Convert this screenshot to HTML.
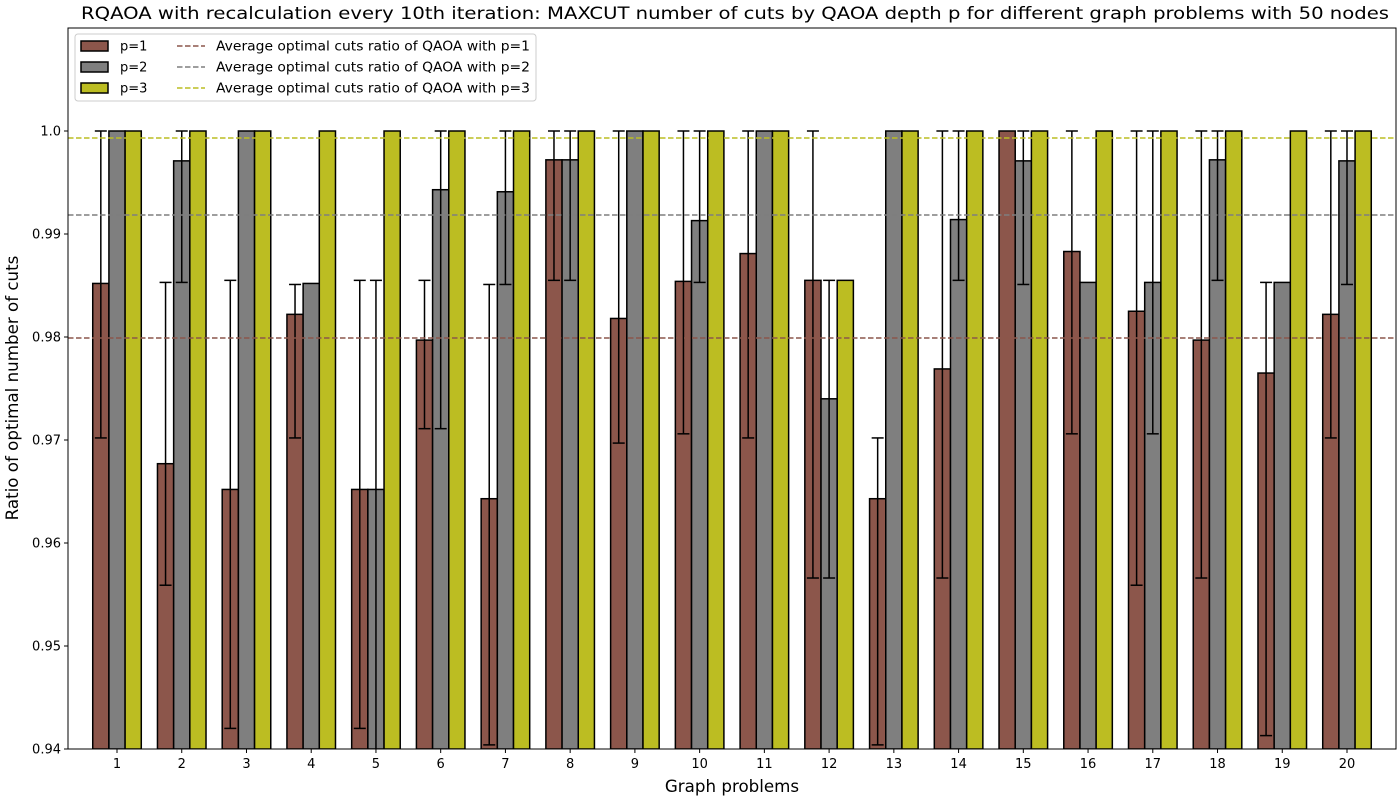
<!DOCTYPE html>
<html><head><meta charset="utf-8"><style>
body{margin:0;background:#fff;}
svg text{font-family:"DejaVu Sans","Liberation Sans",sans-serif;}
</style></head><body>
<svg id="chart" width="1400" height="800" xmlns="http://www.w3.org/2000/svg">
<rect width="1400" height="800" fill="#fff"/>
<text x="735" y="19" font-size="16.7" text-anchor="middle" textLength="1308" lengthAdjust="spacingAndGlyphs">RQAOA with recalculation every 10th iteration: MAXCUT number of cuts by QAOA depth p for different graph problems with 50 nodes</text>
<g id="plot"></g>
<text x="732" y="792" font-size="16.7" text-anchor="middle">Graph problems</text>
<text x="18" y="388" font-size="16.7" text-anchor="middle" transform="rotate(-90 18 388)">Ratio of optimal number of cuts</text>
</svg>
<script>
const categories=[1,2,3,4,5,6,7,8,9,10,11,12,13,14,15,16,17,18,19,20];
const p1=[0.9852,0.9677,0.9652,0.9822,0.9652,0.9797,0.9643,0.9972,0.9818,0.9854,0.9881,0.9855,0.9643,0.9769,1.0,0.9883,0.9825,0.9797,0.9765,0.9822];
const p1Lo=[0.9702,0.9559,0.942,0.9702,0.942,0.9711,0.9404,0.9855,0.9697,0.9706,0.9702,0.9566,0.9404,0.9566,null,0.9706,0.9559,0.9566,0.9413,0.9702];
const p1Hi=[1.0,0.9853,0.9855,0.9851,0.9855,0.9855,0.9851,1.0,1.0,1.0,1.0,1.0,0.9702,1.0,null,1.0,1.0,1.0,0.9853,1.0];
const p2=[1.0,0.9971,1.0,0.9852,0.9652,0.9943,0.9941,0.9972,1.0,0.9913,1.0,0.974,1.0,0.9914,0.9971,0.9853,0.9853,0.9972,0.9853,0.9971];
const p2Lo=[null,0.9853,null,null,0.938,0.9711,0.9851,0.9855,null,0.9853,null,0.9566,null,0.9855,0.9851,null,0.9706,0.9855,null,0.9851];
const p2Hi=[null,1.0,null,null,0.9855,1.0,1.0,1.0,null,1.0,null,0.9855,null,1.0,1.0,null,1.0,1.0,null,1.0];
const p3=[1,1,1,1,1,1,1,1,1,1,1,0.9855,1,1,1,1,1,1,1,1];
const averages=[0.9799,0.99184,0.99932];
const yTicks=[0.94,0.95,0.96,0.97,0.98,0.99,1.0];
const yTickLabels=["0.94","0.95","0.96","0.97","0.98","0.99","1.0"];
const seriesNames=["p=1","p=2","p=3"];

const L=68,R=1396,T=28,B=749,YMIN=0.94,YMAX=1.01,XMIN=0.243,XMAX=20.757;
const colors=["#8c564b","#7f7f7f","#bcbd22"];
const NS="http://www.w3.org/2000/svg";
const g=document.getElementById('plot');
function xs(v){return L+(v-XMIN)/(XMAX-XMIN)*(R-L);}
function ys(v){return B-(v-YMIN)/(YMAX-YMIN)*(B-T);}
function mk(tag,a,p){const e=document.createElementNS(NS,tag);for(const k in a)e.setAttribute(k,a[k]);(p||g).appendChild(e);return e;}
const clip=mk('clipPath',{id:'pc'});mk('rect',{x:L,y:T,width:R-L,height:B-T},clip);
const bw=0.25;
const vals=[p1,p2,p3],los=[p1Lo,p2Lo,null],his=[p1Hi,p2Hi,null];
const bars=mk('g',{'clip-path':'url(#pc)'});


categories.forEach((c,i)=>{
  for(let s=0;s<3;s++){
    const cx=c+(s-1)*bw;
    const x0=xs(cx-bw/2),x1=xs(cx+bw/2),y0=ys(vals[s][i]);
    const r=mk('rect',{x:x0,y:y0,width:x1-x0,height:B-y0,fill:colors[s],stroke:'#000','stroke-width':1.5},bars);
    
    
  }
});
categories.forEach((c,i)=>{
  for(let s=0;s<2;s++){
    if(los[s][i]==null)continue;
    const px=xs(c+(s-1)*bw),ya=ys(los[s][i]),yb=ys(his[s][i]);
    const eg=mk('g',{stroke:'#000','stroke-width':1.5},bars);
    
    
    mk('line',{x1:px,x2:px,y1:ya,y2:yb},eg);
    mk('line',{x1:px-6,x2:px+6,y1:ya,y2:ya},eg);
    mk('line',{x1:px-6,x2:px+6,y1:yb,y2:yb},eg);
  }
});
averages.forEach((a,s)=>{
  const l=mk('line',{x1:L,x2:R,y1:ys(a),y2:ys(a),stroke:colors[s],'stroke-width':1.5,'stroke-dasharray':'5.5,2.5'});
  
  
});
const fr=mk('rect',{x:L,y:T,width:R-L,height:B-T,fill:'none',stroke:'#000','stroke-width':1});


yTicks.forEach((t,i)=>{
  const y=ys(t);
  mk('line',{x1:L-4,x2:L,y1:y,y2:y,stroke:'#000'});
  const tx=mk('text',{x:L-7,y:y+4.5,'font-size':13,'text-anchor':'end'});
  tx.textContent=yTickLabels[i];
  
  
});
categories.forEach(c=>{
  const x=xs(c);
  mk('line',{x1:x,x2:x,y1:B,y2:B+4,stroke:'#000'});
  const tx=mk('text',{x:x,y:B+19,'font-size':13,'text-anchor':'middle'});
  tx.textContent=c;
  
  
});
const lg=mk('g',{});


mk('rect',{x:75,y:34,width:461,height:67,rx:3,fill:'#fff','fill-opacity':0.8,stroke:'#ccc'},lg);
for(let s=0;s<3;s++){
  const y=46+s*21;
  const e=mk('g',{},lg);
  
  
  mk('rect',{x:81,y:y-5,width:27,height:10,fill:colors[s],stroke:'#000','stroke-width':1.5},e);
  const t=mk('text',{x:120,y:y+4.5,'font-size':13},e);t.textContent=seriesNames[s];
  const e2=mk('g',{},lg);
  
  
  mk('line',{x1:177,x2:205,y1:y,y2:y,stroke:colors[s],'stroke-width':1.5,'stroke-dasharray':'5.5,2.5'},e2);
  const t2=mk('text',{x:216,y:y+4.5,'font-size':13,textLength:314,lengthAdjust:'spacingAndGlyphs'},e2);t2.textContent='Average optimal cuts ratio of QAOA with '+seriesNames[s];
}
</script>
</body></html>
